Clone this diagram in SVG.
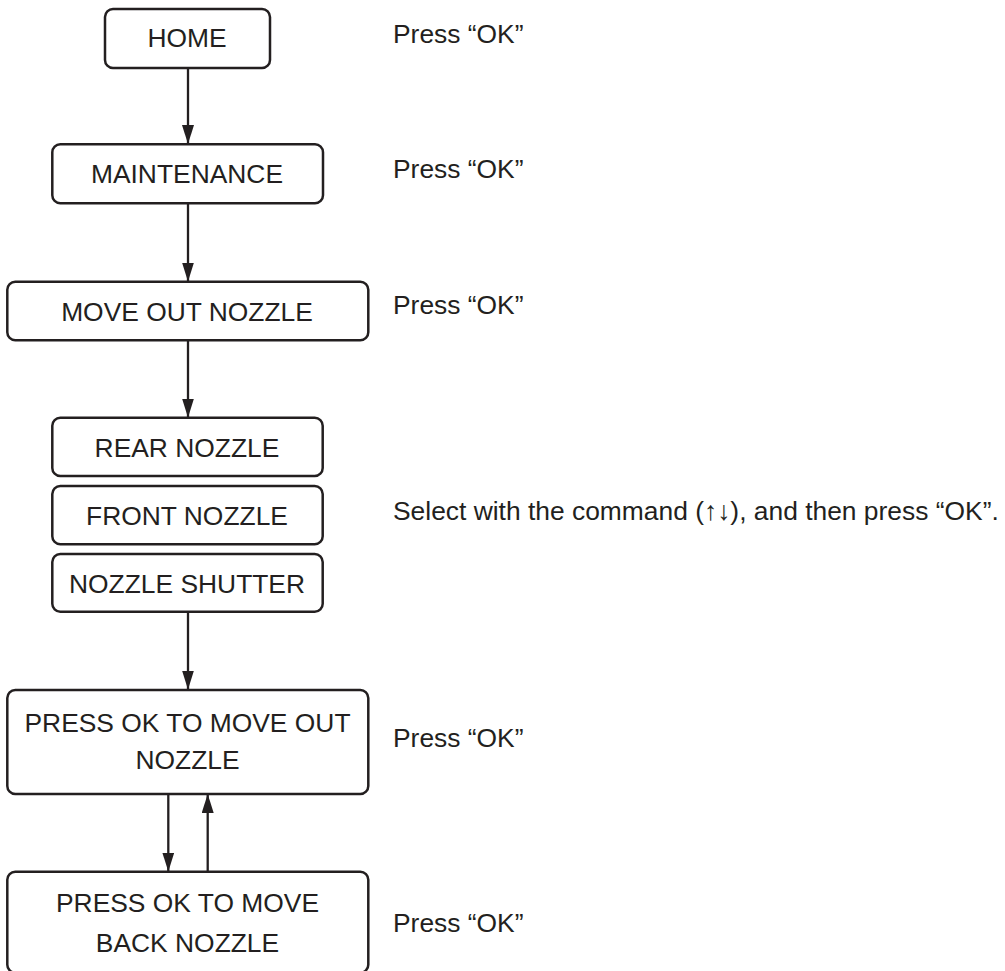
<svg xmlns="http://www.w3.org/2000/svg" width="1005" height="971" viewBox="0 0 1005 971">
<defs>
<style>
.box{fill:#fff;stroke:#231f20;stroke-width:2.5}
.t{font-family:"Liberation Sans",Arial,sans-serif;font-size:26.4px;fill:#231f20}
.c{text-anchor:middle}
.ln{stroke:#231f20;stroke-width:2.3;fill:none;marker-end:url(#ah)}
</style>
<marker id="ah" viewBox="0 0 19 12" refX="19" refY="6" markerWidth="19" markerHeight="12" markerUnits="userSpaceOnUse" orient="auto">
<path d="M0,0 L19,6 L0,12 Z" fill="#231f20"/>
</marker>
</defs>
<rect width="1005" height="971" fill="#fff"/>
<g id="connectors">
<line class="ln" x1="188" y1="68" x2="188" y2="144"/>
<line class="ln" x1="188" y1="203" x2="188" y2="281.5"/>
<line class="ln" x1="188" y1="340.5" x2="188" y2="417.5"/>
<line class="ln" x1="188" y1="611.5" x2="188" y2="689.5"/>
<line class="ln" x1="168.3" y1="794" x2="168.3" y2="871.5"/>
<line class="ln" x1="207.7" y1="871.5" x2="207.7" y2="794"/>
</g>
<g id="home">
<rect class="box" x="105" y="9" width="165" height="59" rx="8"/>
<text class="t c" x="187" y="47.3">HOME</text>
</g>
<g id="maintenance">
<rect class="box" x="52.3" y="144.3" width="270.7" height="59" rx="8"/>
<text class="t c" x="187" y="183.3">MAINTENANCE</text>
</g>
<g id="move-out-nozzle">
<rect class="box" x="7.3" y="281.7" width="361" height="58.5" rx="8"/>
<text class="t c" x="187" y="320.7">MOVE OUT NOZZLE</text>
</g>
<g id="rear-nozzle">
<rect class="box" x="52.3" y="417.7" width="270.4" height="58.3" rx="8"/>
<text class="t c" x="187" y="457.3">REAR NOZZLE</text>
</g>
<g id="front-nozzle">
<rect class="box" x="52.3" y="486" width="270.4" height="58.3" rx="8"/>
<text class="t c" x="187" y="525.3">FRONT NOZZLE</text>
</g>
<g id="nozzle-shutter">
<rect class="box" x="52.3" y="554" width="270.4" height="57.7" rx="8"/>
<text class="t c" x="187" y="592.7">NOZZLE SHUTTER</text>
</g>
<g id="press-ok-move-out">
<rect class="box" x="7.3" y="690" width="361" height="104" rx="8"/>
<text class="t c" x="187.5" y="731.7">PRESS OK TO MOVE OUT</text>
<text class="t c" x="187.5" y="769.3">NOZZLE</text>
</g>
<g id="press-ok-move-back">
<rect class="box" x="7.3" y="871.7" width="361" height="101" rx="8"/>
<text class="t c" x="187.5" y="911.7">PRESS OK TO MOVE</text>
<text class="t c" x="187.5" y="951.7">BACK NOZZLE</text>
</g>
<g id="notes">
<text class="t" x="393" y="43.3">Press “OK”</text>
<text class="t" x="393" y="178.3">Press “OK”</text>
<text class="t" x="393" y="313.8">Press “OK”</text>
<text class="t" x="393" y="519.5">Select with the command (↑↓), and then press “OK”.</text>
<text class="t" x="393" y="747">Press “OK”</text>
<text class="t" x="393" y="932">Press “OK”</text>
</g>
</svg>
